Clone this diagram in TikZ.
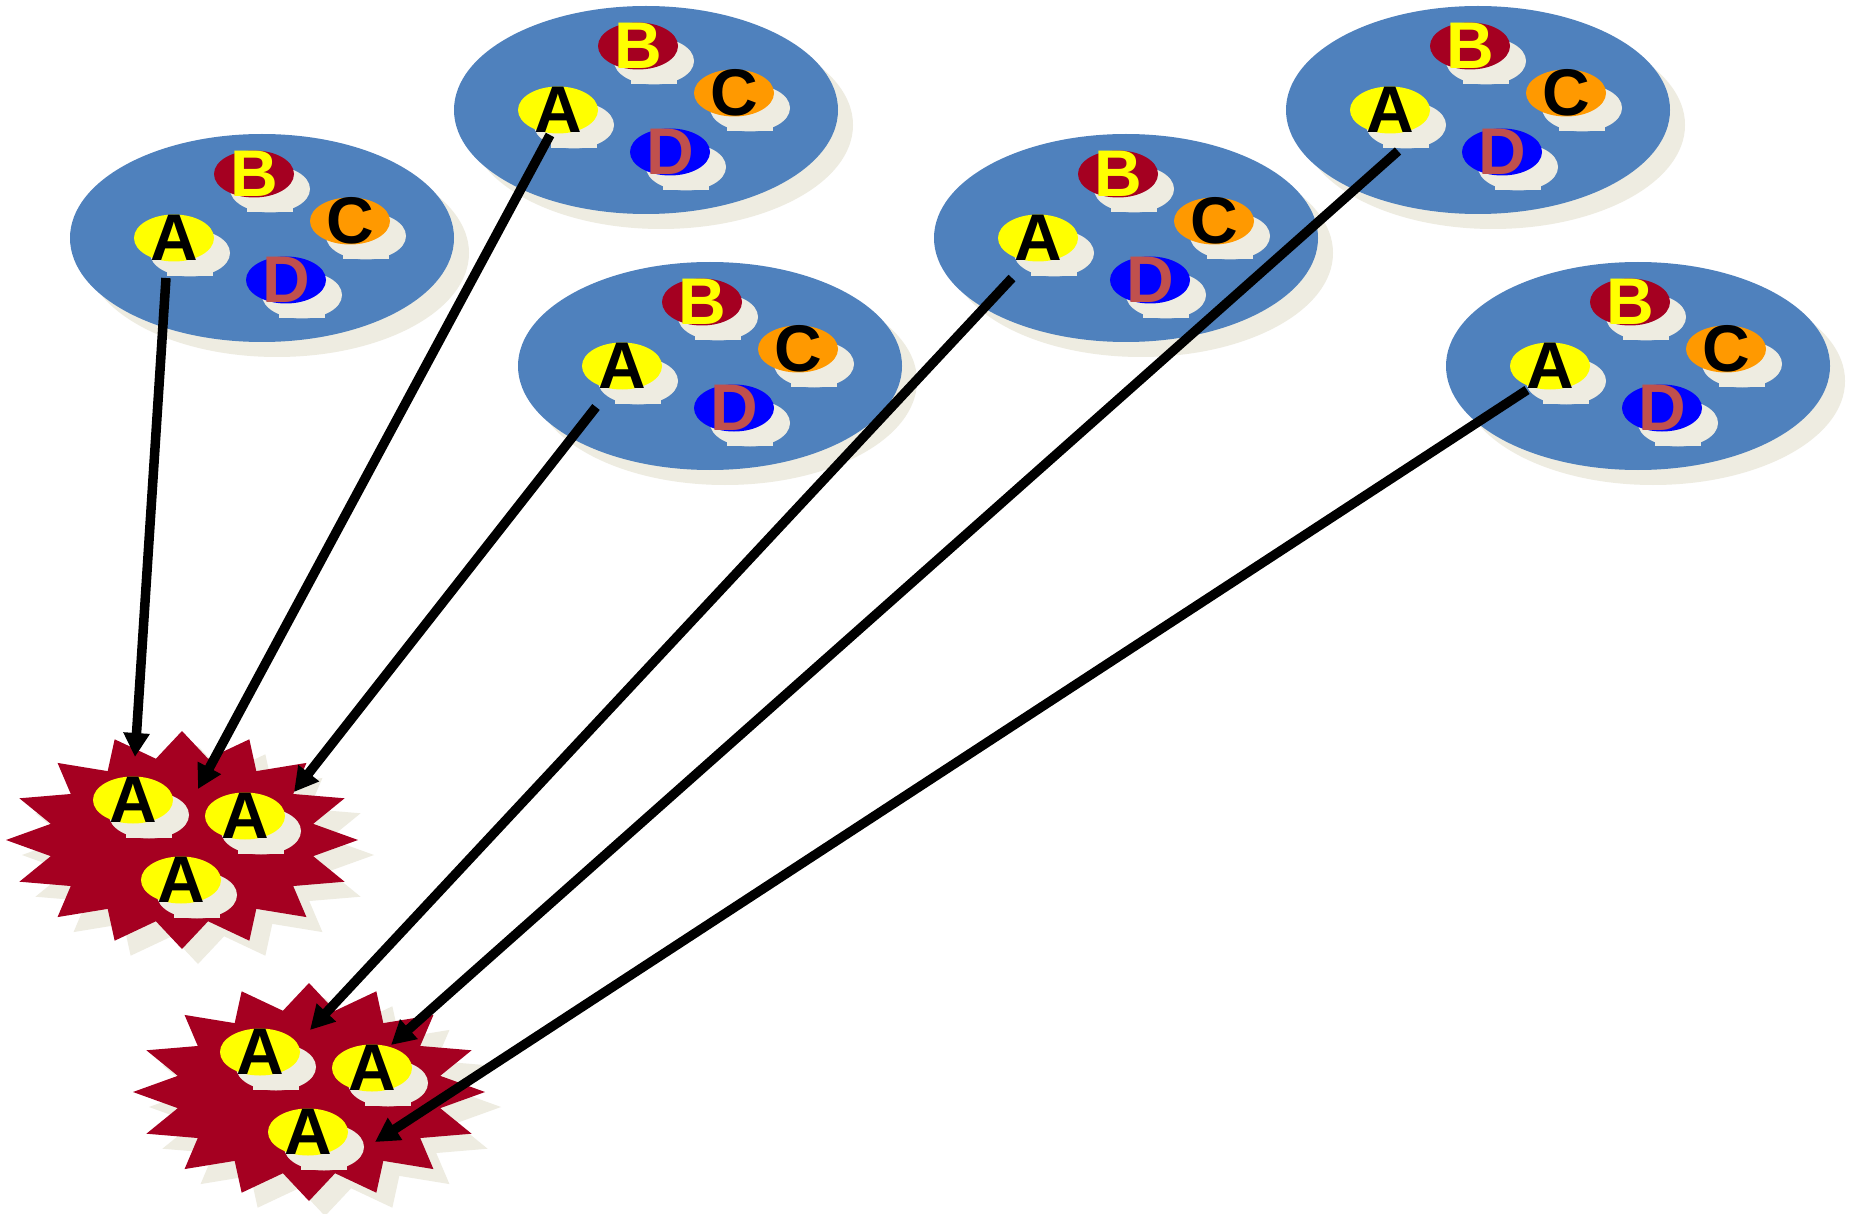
\documentclass[tikz,border=0pt]{standalone}
\usepackage{fontspec}
\setmainfont{Liberation Sans}
\usetikzlibrary{shapes.geometric,arrows.meta}
\definecolor{bigblue}{HTML}{4F81BD}
\definecolor{shadowc}{HTML}{EEECE1}
\definecolor{darkred}{HTML}{A50021}
\definecolor{orng}{HTML}{FF9900}
\definecolor{pureblue}{HTML}{0000FF}
\definecolor{dred}{HTML}{C0504D}
\definecolor{yel}{HTML}{FFFF00}
\tikzset{
  bigell/.style={ellipse, fill=bigblue, minimum width=384pt, minimum height=208pt, inner sep=0pt},
  smallell/.style={ellipse, minimum width=80pt, minimum height=47pt, inner sep=0pt},
  lett/.style={inner sep=0pt, font=\fontsize{66}{66}\selectfont\bfseries},
  arr/.style={line width=9.5pt, -{Triangle[length=24pt,width=25pt]}},
}
\newcommand\smallell[6]{%
  \fill[shadowc] (#2+16,#3+15) ellipse [x radius=40, y radius=23.5];
  \fill[shadowc] (#2-7,#3+30) rectangle (#2+39,#3+38);
  \node[smallell, fill=#4] (#1) at (#2,#3) {};
  \node[lett, text=#5] at (#1) {#6};
}
\newcommand\grp[3]{%
  \fill[shadowc] (#2+15,#3+15) ellipse [x radius=192, y radius=104];
  \node[bigell] (#1) at (#2,#3) {};
  \smallell{#1A}{#2-88}{#3}{yel}{black}{A}
  \smallell{#1B}{#2-8}{#3-64}{darkred}{yel}{B}
  \smallell{#1C}{#2+88}{#3-17}{orng}{black}{C}
  \smallell{#1D}{#2+24}{#3+42}{pureblue}{dred}{D}
}
\newcommand\burst[3]{%
  \fill[shadowc] plot[variable=\k, samples at={0,...,31}]
    ({#2+16+(0.88+0.12*cos(\k*180))*176*sin(\k*11.25)},
     {#3+15-(0.88+0.12*cos(\k*180))*109*cos(\k*11.25)}) -- cycle;
  \fill[darkred] plot[variable=\k, samples at={0,...,31}]
    ({#2+(0.88+0.12*cos(\k*180))*176*sin(\k*11.25)},
     {#3-(0.88+0.12*cos(\k*180))*109*cos(\k*11.25)}) -- cycle;
  \coordinate (#1) at (#2,#3);
  \smallell{#1a}{#2-49}{#3-40}{yel}{black}{A}
  \smallell{#1b}{#2+63}{#3-24}{yel}{black}{A}
  \smallell{#1c}{#2-1}{#3+40}{yel}{black}{A}
}
\begin{document}
\begin{tikzpicture}[x=1pt,y=-1pt]
  \fill[white] (0,0) rectangle (1852,1214);
  \useasboundingbox (0,0) rectangle (1852,1214);
  \grp{g1}{262}{238}
  \grp{g2}{646}{110}
  \grp{g3}{710}{366}
  \grp{g4}{1126}{238}
  \grp{g5}{1478}{110}
  \grp{g6}{1638}{366}
  \burst{s1}{182}{840}
  \burst{s2}{309}{1092}
  \draw[arr] ([shift={(-8,40)}]g1A.center) -- ([shift={(-47,-83)}]s1);
  \draw[arr] ([shift={(-8,25)}]g2A.center) -- ([shift={(16,-51)}]s1);
  \draw[arr] ([shift={(-26,41)}]g3A.center) -- ([shift={(112,-48)}]s1);
  \draw[arr] ([shift={(-26,40)}]g4A.center) -- ([shift={(1,-62)}]s2);
  \draw[arr] ([shift={(8,41)}]g5A.center) -- ([shift={(82,-47)}]s2);
  \draw[arr] ([shift={(-23,24)}]g6A.center) -- ([shift={(66,50)}]s2);
\end{tikzpicture}
\end{document}
